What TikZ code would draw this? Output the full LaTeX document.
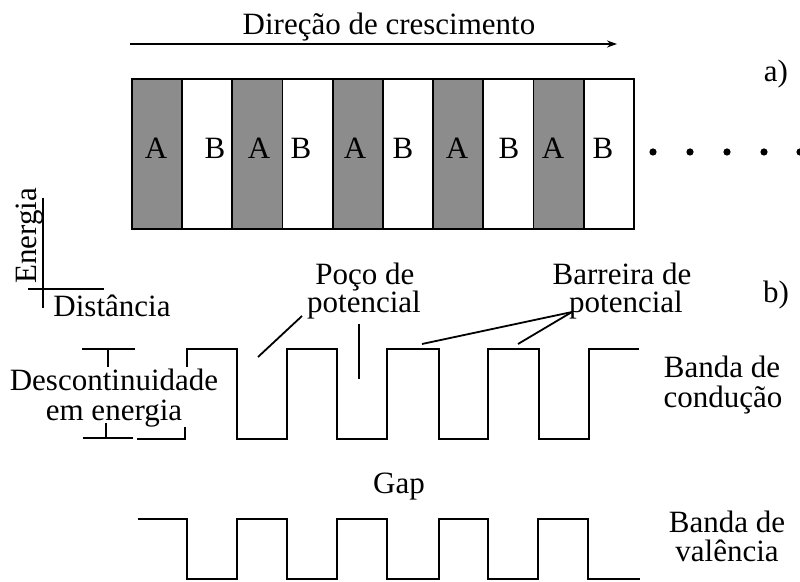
\documentclass[tikz,border=0pt]{standalone}
\usepackage{fontspec}
\setmainfont{Liberation Serif}
\usetikzlibrary{arrows.meta}
\definecolor{cellgrey}{RGB}{140,140,140}
\begin{document}
\begin{tikzpicture}[x=0.5pt,y=-0.5pt,
  font=\fontsize{15.5}{18}\selectfont,
  txt/.style={inner sep=0pt, anchor=base},
  cellbox/.style={draw, line width=0.9pt, minimum width=25.1pt, minimum height=75pt, inner sep=0pt, anchor=north west},
  acell/.style={cellbox, fill=cellgrey},
  bcell/.style={cellbox, fill=white},
  band/.style={line width=1.3pt, line join=miter},
  leader/.style={line width=0.9pt},
  tick/.style={line width=0.9pt},
  dotmark/.style={circle, fill=black, inner sep=0pt, minimum size=3.6pt}]
\useasboundingbox (0,0) rectangle (800,582);

% growth direction
\node[txt] (title) at (389,35) {Direção de crescimento};
\coordinate (arrS) at (130,44);
\coordinate (arrE) at (617,44);
\draw[line width=0.9pt, -{Stealth[length=5pt,width=3.5pt]}] (arrS) -- (arrE);
\node[txt] (lab a) at (776,82) {a)};

% layers
\foreach \k in {0,2,4,6,8} {
  \node[acell] (c\k) at ({131+50.2*\k},78) {};
}
\foreach \k in {1,3,5,7,9} {
  \node[bcell] (c\k) at ({131+50.2*\k},78) {};
}
\foreach \x/\l [count=\i] in {156/A,215/B,259/A,301/B,355/A,403/B,457/A,509/B,553/A,603/B} {
  \node[txt] (l\i) at (\x,159) {\l};
}
\foreach \x [count=\i] in {653,690,727,764,800} {
  \node[dotmark] (d\i) at (\x,152) {};
}

% axes
\coordinate (axT) at (43,198);
\coordinate (axB) at (43,308);
\coordinate (axL) at (28,289);
\coordinate (axR) at (104,289);
\draw[tick] (axT) -- (axB);
\draw[tick] (axL) -- (axR);
\node[txt, rotate=90] (energia) at (37,236) {Energia};
\node[txt] (dist) at (112,317) {Distância};
\node[txt] (lab b) at (776,303) {b)};

% conduction band
\draw[band] (187,367) -- (187,349) -- (237,349) -- (237,439) -- (287,439) -- (287,349)
  -- (337,349) -- (337,439) -- (387,439) -- (387,349) -- (439,349) -- (439,439)
  -- (488,439) -- (488,349) -- (539,349) -- (539,439) -- (589,439) -- (589,349) -- (639,349);
\draw[band] (137,439) -- (185,439) -- (185,427);

% valence band
\draw[band] (138,519) -- (187,519) -- (187,579) -- (237,579) -- (237,519) -- (287,519)
  -- (287,579) -- (337,579) -- (337,519) -- (387,519) -- (387,579) -- (439,579)
  -- (439,519) -- (488,519) -- (488,579) -- (538,579) -- (538,519) -- (588,519)
  -- (588,579) -- (640,579);

% discontinuity marks
\draw[tick] (82,349) -- (135,349);
\draw[tick] (108,349) -- (108,367);
\draw[tick] (83,438) -- (133,438);
\draw[tick] (106,423) -- (106,438);
\node[txt] (desc1) at (114,391) {Descontinuidade};
\node[txt] (desc2) at (114,421) {em energia};

% well labels
\node[txt] (poco1) at (365,285) {Poço de};
\node[txt] (poco2) at (364,313) {potencial};
\coordinate (pwA) at (258,357);
\coordinate (pwB) at (302,316);
\coordinate (pwC) at (359,324);
\coordinate (pwD) at (359,379);
\draw[leader] (pwA) -- (pwB);
\draw[leader] (pwC) -- (pwD);

% barrier labels
\node[txt] (bar1) at (622,285) {Barreira de};
\node[txt] (bar2) at (626,313) {potencial};
\coordinate (brV) at (572,312);
\coordinate (brA) at (422,344);
\coordinate (brB) at (518,344);
\draw[leader] (brA) -- (brV);
\draw[leader] (brB) -- (brV);

% band labels
\node[txt] (cb1) at (722,378) {Banda de};
\node[txt] (cb2) at (723,408) {condução};
\node[txt] (gap) at (399,494) {Gap};
\node[txt] (vb1) at (727,533) {Banda de};
\node[txt] (vb2) at (727,562) {valência};
\end{tikzpicture}
\end{document}
